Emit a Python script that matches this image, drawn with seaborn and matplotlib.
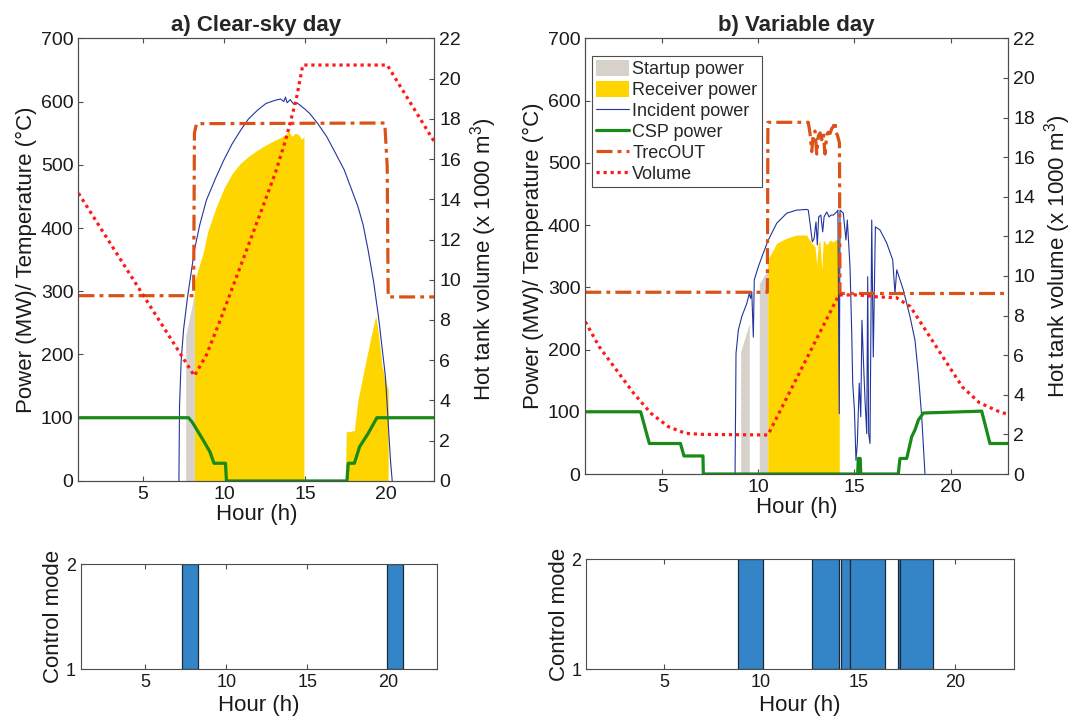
import matplotlib
matplotlib.use("Agg")
import matplotlib.pyplot as plt
import seaborn as sns
from matplotlib.patches import Patch
from matplotlib.lines import Line2D

# ---------------- a) Clear-sky day ----------------
a_inc_hour = [7.21, 7.25, 7.35, 7.5, 7.74, 8.0, 8.17, 8.5, 8.91, 9.5, 9.98, 10.5, 11.04, 11.5,
              12.1, 12.6, 13.17, 13.5, 13.7, 13.8, 13.9, 14.1, 14.3, 14.5, 14.66, 15.0, 15.3,
              15.8, 16.36, 16.9, 17.43, 17.9, 18.28, 18.6, 18.91, 19.25, 19.55, 19.8, 19.98,
              20.1, 20.19, 20.3, 20.4]
a_inc_mw = [0, 120, 190, 240, 290, 335, 365, 405, 444, 480, 507, 533, 555, 572,
            587, 597, 602, 604, 600, 607, 598, 603, 596, 598, 595, 588, 581,
            565, 544, 518, 492, 460, 434, 405, 365, 315, 260, 205, 165,
            115, 75, 30, 0]

a_start_hour = [7.63, 7.63, 7.9, 8.17]
a_start_mw = [0, 230, 262, 297]

a_rec1_hour = [8.17, 8.4, 8.7, 9.0, 9.5, 10.0, 10.5, 11.0, 11.5, 12.0, 12.5, 13.0, 13.5,
               13.8, 14.0, 14.2, 14.4, 14.6, 14.8, 14.94]
a_rec1_mw = [315, 335, 360, 395, 432, 463, 486, 502, 513, 522, 530, 537, 543,
             548, 553, 545, 550, 548, 540, 545]
a_rec2_hour = [17.5, 17.56, 17.75, 18.06, 18.15, 18.28, 18.49, 18.7, 18.9, 19.13, 19.38,
               19.55, 19.77, 19.98, 20.15]
a_rec2_mw = [0, 78, 78, 80, 100, 128, 154, 181, 205, 233, 261, 233, 181, 160, 144]

a_csp_hour = [1, 7.81, 8.06, 8.7, 9.13, 9.38, 10.09, 10.15, 17.6, 17.68, 18.06, 18.38,
              18.91, 19.45, 23]
a_csp_mw = [100, 100, 92, 65, 46, 28, 28, 0, 0, 28, 28, 54, 75, 100, 100]

a_trec_hour = [1, 8.12, 8.17, 8.3, 19.94, 20.09, 20.15, 23]
a_trec_c = [293, 293, 550, 565, 566, 497, 291, 291]

a_vol_hour = [1, 8.17, 8.91, 9.77, 10.62, 11.47, 12.32, 13.17, 13.81, 14.45, 14.87, 20.09, 23]
a_vol_m3 = [14.3, 5.22, 6.26, 8.0, 9.82, 11.64, 13.46, 15.3, 16.95, 18.9, 20.67, 20.67, 16.86]

a_mode_start = [7.24, 19.95]
a_mode_end = [8.27, 20.94]

# ---------------- b) Variable day ----------------
b_inc_hour = [8.79, 8.84, 8.96, 9.14, 9.4, 9.53, 9.6, 9.66, 9.74, 9.79, 10.0, 10.26, 10.52,
              10.96, 11.48, 12.0, 12.52, 12.6, 12.69, 12.81, 12.9, 13.0, 13.07, 13.14, 13.25,
              13.35, 13.42, 13.56, 13.68, 13.78, 13.9, 14.08, 14.14, 14.21, 14.25, 14.42,
              14.56, 14.63, 14.77, 14.86, 14.91, 15.0, 15.08, 15.15, 15.25, 15.33, 15.39,
              15.46, 15.55, 15.64, 15.69, 15.74, 15.81, 15.9, 15.98, 16.09, 16.33, 16.68,
              16.99, 17.11, 17.2, 17.54, 17.89, 18.15, 18.32, 18.5, 18.67]
b_inc_mw = [0, 194, 231, 253, 274, 290, 282, 293, 220, 312, 333, 355, 376,
            403, 419, 424, 425, 424, 403, 373, 378, 405, 368, 413, 416,
            389, 413, 421, 413, 416, 416, 421, 424, 97, 424, 419,
            376, 408, 333, 226, 146, 103, 22, 49, 146, 92, 247,
            188, 119, 65, 317, 65, 49, 408, 188, 397, 392, 371,
            344, 290, 328, 296, 253, 215, 162, 92, 0]

b_start1_hour = [9.08, 9.08, 9.53]
b_start1_mw = [0, 196, 242]
b_start2_hour = [10.05, 10.05, 10.49]
b_start2_mw = [0, 306, 328]

b_rec_hour = [10.49, 10.49, 10.96, 11.48, 12.0, 12.52, 12.6, 12.78, 12.95, 13.04, 13.12,
              13.2, 13.3, 13.38, 13.56, 13.73, 13.9, 14.08, 14.21]
b_rec_mw = [0, 344, 371, 379, 384, 384, 379, 371, 365, 336, 371,
            375, 328, 376, 368, 376, 373, 378, 375]

b_csp_hour = [1, 3.88, 4.33, 5.95, 6.13, 7.12, 7.14, 15.17, 15.2, 15.3, 15.33, 17.28, 17.37,
              17.72, 17.98, 18.15, 18.33, 18.59, 21.62, 22.05, 23]
b_csp_mw = [100, 100, 49, 49, 29, 29, 0, 0, 25, 25, 0, 0, 25,
            25, 60, 71, 87, 98, 101, 49, 49]

b_trec_hour = [1, 10.47, 10.5, 12.6, 12.69, 12.78, 12.86, 12.95, 13.04, 13.12, 13.21, 13.3,
               13.38, 13.47, 13.56, 13.64, 13.73, 13.82, 13.9, 13.99, 14.04, 14.11, 14.22,
               14.25, 23]
b_trec_c = [292, 292, 565, 565, 547, 518, 547, 551, 514, 543, 548, 537,
            547, 514, 545, 549, 547, 555, 558, 566, 548, 545, 532,
            290, 290]

b_vol_hour = [1, 1.72, 2.62, 3.52, 4.42, 5.32, 6.22, 7.12, 10.5, 14.19, 15.21, 16.11, 17.19,
              17.91, 18.81, 19.71, 20.61, 21.5, 22.4, 23]
b_vol_m3 = [7.69, 6.43, 5.25, 4.07, 3.06, 2.39, 2.05, 2.0, 1.97, 9.04, 9.04, 8.95, 8.9,
            8.45, 7.1, 5.75, 4.4, 3.6, 3.2, 3.0]

b_mode_start = [8.79, 12.60, 14.12, 14.59, 17.06, 17.13]
b_mode_end = [10.10, 13.99, 14.59, 16.40, 17.13, 18.83]

# ---------------- style ----------------
C_START = "#d6d2cb"
C_REC = "#ffd500"
C_INC = "#22359e"
C_CSP = "#178a17"
C_TREC = "#d95319"
C_VOL = "#ff1a1a"
C_MODE = "#3485c8"
TREC_LS = (0, (5, 1.6, 1.2, 1.6))
VOL_LS = (0, (1, 1.2))

sns.set_theme(style="ticks")
plt.rcParams.update({
    "font.family": ["Liberation Sans", "DejaVu Sans"],
    "mathtext.fontset": "custom",
    "mathtext.rm": "Liberation Sans",
    "axes.edgecolor": "#4d4d4d",
    "axes.linewidth": 0.8,
    "xtick.direction": "in",
    "ytick.direction": "in",
    "xtick.major.size": 3.5,
    "ytick.major.size": 3.5,
    "xtick.major.width": 0.8,
    "ytick.major.width": 0.8,
    "xtick.color": "#4d4d4d",
    "ytick.color": "#4d4d4d",
    "xtick.labelcolor": "#1a1a1a",
    "ytick.labelcolor": "#1a1a1a",
    "axes.labelcolor": "#1a1a1a",
})

LABEL_FS = 16
TICK_FS = 14


def line(ax, x, y, **kw):
    sns.lineplot(x=x, y=y, ax=ax, sort=False, estimator=None, legend=False, **kw)


def main_panel(ax, title, inc, starts, recs, csp, trec, vol):
    for h, p in starts:
        ax.fill_between(h, 0, p, color=C_START, lw=0)
    for h, p in recs:
        ax.fill_between(h, 0, p, color=C_REC, lw=0)
    line(ax, inc[0], inc[1], color=C_INC, lw=0.8)
    line(ax, csp[0], csp[1], color=C_CSP, lw=2.3)
    line(ax, trec[0], trec[1], color=C_TREC, lw=2.3, linestyle=TREC_LS)
    ax.set_xlim(1, 23)
    ax.set_ylim(0, 700)
    ax.set_xticks([5, 10, 15, 20])
    ax.set_yticks(range(0, 701, 100))
    ax.tick_params(labelsize=TICK_FS, top=True, right=False)
    ax.set_xlabel("Hour (h)", fontsize=LABEL_FS, labelpad=1)
    ax.set_ylabel("Power (MW)/ Temperature (\u00b0C)", fontsize=LABEL_FS, labelpad=3)
    ax.set_title(title, fontsize=16, fontweight="bold", pad=5)

    ax2 = ax.twinx()
    line(ax2, vol[0], vol[1], color=C_VOL, lw=2.3, linestyle=VOL_LS)
    ax2.set_ylim(0, 22)
    ax2.set_yticks(range(0, 23, 2))
    ax2.tick_params(labelsize=TICK_FS, right=True, left=False)
    ax2.set_ylabel("Hot tank volume (x 1000 m$^3$)", fontsize=LABEL_FS, labelpad=5)
    return ax2


def mode_panel(ax, starts, ends):
    for s, e in zip(starts, ends):
        ax.fill_between([s, e], 1, 2, facecolor=C_MODE, edgecolor="#1c2a38", lw=0.9)
    ax.set_xlim(1, 23)
    ax.set_ylim(1, 2)
    ax.set_xticks([5, 10, 15, 20])
    ax.set_yticks([1, 2])
    ax.tick_params(labelsize=13, top=True, right=True)
    ax.set_xlabel("Hour (h)", fontsize=LABEL_FS, labelpad=3)
    ax.set_ylabel("Control mode", fontsize=LABEL_FS, labelpad=1)


fig = plt.figure(figsize=(10.72, 7.25), dpi=100)
ax_a = fig.add_axes([0.0732, 0.3366, 0.3319, 0.6106])
ax_b = fig.add_axes([0.5460, 0.3462, 0.3945, 0.6010])
ax_am = fig.add_axes([0.0753, 0.0772, 0.3321, 0.1445])
ax_bm = fig.add_axes([0.5468, 0.0768, 0.3988, 0.1517])

main_panel(ax_a, "a) Clear-sky day",
           (a_inc_hour, a_inc_mw),
           [(a_start_hour, a_start_mw)],
           [(a_rec1_hour, a_rec1_mw), (a_rec2_hour, a_rec2_mw)],
           (a_csp_hour, a_csp_mw),
           (a_trec_hour, a_trec_c),
           (a_vol_hour, a_vol_m3))

ax_b2 = main_panel(ax_b, "b) Variable day",
                   (b_inc_hour, b_inc_mw),
                   [(b_start1_hour, b_start1_mw), (b_start2_hour, b_start2_mw)],
                   [(b_rec_hour, b_rec_mw)],
                   (b_csp_hour, b_csp_mw),
                   (b_trec_hour, b_trec_c),
                   (b_vol_hour, b_vol_m3))

handles = [
    Patch(facecolor=C_START, edgecolor="none"),
    Patch(facecolor=C_REC, edgecolor="none"),
    Line2D([], [], color=C_INC, lw=0.8),
    Line2D([], [], color=C_CSP, lw=2.3),
    Line2D([], [], color=C_TREC, lw=2.3, linestyle=TREC_LS),
    Line2D([], [], color=C_VOL, lw=2.3, linestyle=VOL_LS),
]
labels = ["Startup power", "Receiver power", "Incident power", "CSP power", "TrecOUT", "Volume"]
leg = ax_b2.legend(handles, labels, loc="upper left", bbox_to_anchor=(0.0147, 0.960),
                   borderaxespad=0, fontsize=13, handlelength=1.8, handleheight=0.95,
                   handletextpad=0.2, labelspacing=0.16, borderpad=0.25,
                   fancybox=False, framealpha=1, edgecolor="#4d4d4d")
leg.get_frame().set_linewidth(0.8)

mode_panel(ax_am, a_mode_start, a_mode_end)
mode_panel(ax_bm, b_mode_start, b_mode_end)

fig.savefig("out.png", dpi=100)
